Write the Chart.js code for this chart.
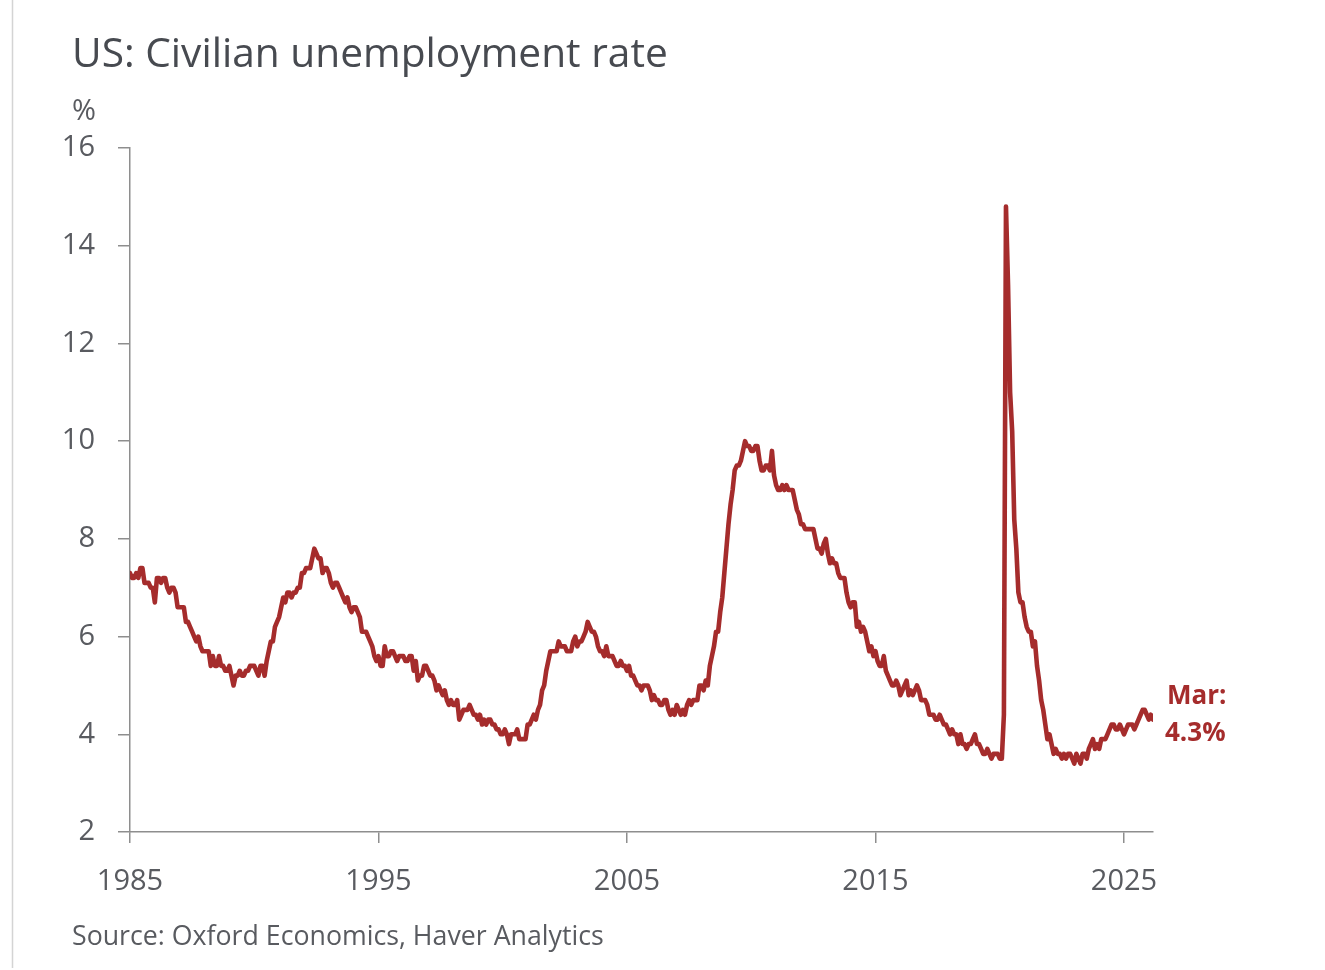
<!DOCTYPE html>
<html>
<head>
<meta charset="utf-8">
<script src="https://cdn.jsdelivr.net/npm/chart.js@4/dist/chart.umd.min.js"></script>
<style>
  html, body { margin: 0; padding: 0; background: #ffffff; }
  #c { display: block; }
</style>
</head>
<body>
<canvas id="c" width="1325" height="970"></canvas>
<script>
// ---- Data (monthly, seasonally adjusted, %) ----
const startYear = 1985;
const rate1985_1994 = [
  7.3,7.2,7.2,7.3,7.2,7.4,7.4,7.1,7.1,7.1,7.0,7.0,
  6.7,7.2,7.2,7.1,7.2,7.2,7.0,6.9,7.0,7.0,6.9,6.6,
  6.6,6.6,6.6,6.3,6.3,6.2,6.1,6.0,5.9,6.0,5.8,5.7,
  5.7,5.7,5.7,5.4,5.6,5.4,5.4,5.6,5.4,5.4,5.3,5.3,
  5.4,5.2,5.0,5.2,5.2,5.3,5.2,5.2,5.3,5.3,5.4,5.4,
  5.4,5.3,5.2,5.4,5.4,5.2,5.5,5.7,5.9,5.9,6.2,6.3,
  6.4,6.6,6.8,6.7,6.9,6.9,6.8,6.9,6.9,7.0,7.0,7.3,
  7.3,7.4,7.4,7.4,7.6,7.8,7.7,7.6,7.6,7.3,7.4,7.4,
  7.3,7.1,7.0,7.1,7.1,7.0,6.9,6.8,6.7,6.8,6.6,6.5,
  6.6,6.6,6.5,6.4,6.1,6.1,6.1,6.0,5.9,5.8,5.6,5.5
];
const rate1995_2004 = [
  5.6,5.4,5.4,5.8,5.6,5.6,5.7,5.7,5.6,5.5,5.6,5.6,
  5.6,5.5,5.5,5.6,5.6,5.3,5.5,5.1,5.2,5.2,5.4,5.4,
  5.3,5.2,5.2,5.1,4.9,5.0,4.9,4.8,4.9,4.7,4.6,4.7,
  4.6,4.6,4.7,4.3,4.4,4.5,4.5,4.5,4.6,4.5,4.4,4.4,
  4.3,4.4,4.2,4.3,4.2,4.3,4.3,4.2,4.2,4.1,4.1,4.0,
  4.0,4.1,4.0,3.8,4.0,4.0,4.0,4.1,3.9,3.9,3.9,3.9,
  4.2,4.2,4.3,4.4,4.3,4.5,4.6,4.9,5.0,5.3,5.5,5.7,
  5.7,5.7,5.7,5.9,5.8,5.8,5.8,5.7,5.7,5.7,5.9,6.0,
  5.8,5.9,5.9,6.0,6.1,6.3,6.2,6.1,6.1,6.0,5.8,5.7,
  5.7,5.6,5.8,5.6,5.6,5.6,5.5,5.4,5.4,5.5,5.4,5.4
];
const rate2005_2014 = [
  5.3,5.4,5.2,5.2,5.1,5.0,5.0,4.9,5.0,5.0,5.0,4.9,
  4.7,4.8,4.7,4.7,4.6,4.6,4.7,4.7,4.5,4.4,4.5,4.4,
  4.6,4.5,4.4,4.5,4.4,4.6,4.7,4.6,4.7,4.7,4.7,5.0,
  5.0,4.9,5.1,5.0,5.4,5.6,5.8,6.1,6.1,6.5,6.8,7.3,
  7.8,8.3,8.7,9.0,9.4,9.5,9.5,9.6,9.8,10.0,9.9,9.9,
  9.8,9.8,9.9,9.9,9.6,9.4,9.4,9.5,9.5,9.4,9.8,9.3,
  9.1,9.0,9.0,9.1,9.0,9.1,9.0,9.0,9.0,8.8,8.6,8.5,
  8.3,8.3,8.2,8.2,8.2,8.2,8.2,8.0,7.8,7.8,7.7,7.9,
  8.0,7.7,7.5,7.6,7.5,7.5,7.3,7.2,7.2,7.2,6.9,6.7,
  6.6,6.7,6.7,6.2,6.3,6.1,6.2,6.1,5.9,5.7,5.8,5.6
];
const rate2015_2024 = [
  5.7,5.5,5.4,5.4,5.6,5.3,5.2,5.1,5.0,5.0,5.1,5.0,
  4.8,4.9,5.0,5.1,4.8,4.9,4.8,4.9,5.0,4.9,4.7,4.7,
  4.7,4.6,4.4,4.4,4.4,4.3,4.3,4.4,4.3,4.2,4.2,4.1,
  4.0,4.1,4.0,4.0,3.8,4.0,3.8,3.8,3.7,3.8,3.8,3.9,
  4.0,3.8,3.8,3.7,3.6,3.6,3.7,3.6,3.5,3.6,3.6,3.6,
  3.5,3.5,4.4,14.8,13.2,11.0,10.2,8.4,7.8,6.9,6.7,6.7,
  6.4,6.2,6.1,6.1,5.8,5.9,5.4,5.1,4.7,4.5,4.2,3.9,
  4.0,3.8,3.6,3.7,3.6,3.6,3.5,3.6,3.5,3.6,3.6,3.5,
  3.4,3.6,3.5,3.4,3.6,3.6,3.5,3.7,3.8,3.9,3.7,3.8,
  3.7,3.9,3.9,3.9,4.0,4.1,4.2,4.2,4.1,4.1,4.2,4.1
];
const rate2025_2026 = [
  4.0,4.1,4.2,4.2,4.2,4.1,4.2,4.3,4.4,4.5,4.5,4.4,
  4.3,4.4,4.3
];
const monthNames = ['Jan','Feb','Mar','Apr','May','Jun','Jul','Aug','Sep','Oct','Nov','Dec'];
const xTickYears = [1985, 1995, 2005, 2015, 2025];
const yTickValues = [2, 4, 6, 8, 10, 12, 14, 16];
const titleText = 'US: Civilian unemployment rate';
const unitText = '%';
const sourceText = 'Source: Oxford Economics, Haver Analytics';

// ---- Build series ----
const allRates = [].concat(rate1985_1994, rate1995_2004, rate2005_2014, rate2015_2024, rate2025_2026);
const points = allRates.map((v, i) => ({ x: startYear + i / 12, y: v }));
const lastIndex = allRates.length - 1;
const lastPoint = points[lastIndex];
const lastMonth = monthNames[lastIndex % 12];

const RED = '#a52c2c';
const AXIS = '#8e8e8e';
const TEXT = '#595b60';
const FONT = '"Open Sans", "Noto Sans", sans-serif';

function fitFont(ctx, text, weight, targetWidth) {
  ctx.font = weight + ' 40px ' + FONT;
  const w = ctx.measureText(text).width;
  return 40 * targetWidth / w;
}

const decorPlugin = {
  id: 'decor',
  afterDraw(chart) {
    const ctx = chart.ctx;
    ctx.save();
    // faint left border
    ctx.strokeStyle = '#d4d4d4';
    ctx.lineWidth = 1.5;
    ctx.beginPath(); ctx.moveTo(12.5, 0); ctx.lineTo(12.5, 968); ctx.stroke();

    // title
    ctx.fillStyle = '#474a50';
    ctx.textAlign = 'left';
    ctx.textBaseline = 'alphabetic';
    let fs = fitFont(ctx, titleText, '400', 596);
    ctx.font = '400 ' + fs.toFixed(2) + 'px ' + FONT;
    ctx.fillText(titleText, 72, 67);

    // unit
    ctx.fillStyle = TEXT;
    ctx.font = '400 29px ' + FONT;
    ctx.fillText(unitText, 72, 120);

    // source
    fs = fitFont(ctx, sourceText, '400', 532);
    ctx.font = '400 ' + fs.toFixed(2) + 'px ' + FONT;
    ctx.fillText(sourceText, 72, 945);

    // end-point annotation
    const xs = chart.scales.x, ys = chart.scales.y;
    const px = xs.getPixelForValue(lastPoint.x);
    const py = ys.getPixelForValue(lastPoint.y);
    ctx.fillStyle = RED;
    ctx.font = '700 26px ' + FONT;
    ctx.fillText(lastMonth + ':', px + 14, py - 16);
    ctx.fillText(lastPoint.y.toFixed(1) + '%', px + 12, py + 21);
    ctx.restore();
  }
};

new Chart(document.getElementById('c'), {
  type: 'line',
  data: {
    datasets: [{
      data: points,
      borderColor: RED,
      borderWidth: 4.6,
      pointRadius: 0,
      tension: 0,
      fill: false,
      borderJoinStyle: 'round',
      borderCapStyle: 'round'
    }]
  },
  options: {
    responsive: false,
    devicePixelRatio: 1,
    animation: false,
    parsing: false,
    layout: { padding: { left: 0, top: 148, right: 172, bottom: 0 } },
    plugins: { legend: { display: false }, tooltip: { enabled: false }, title: { display: false } },
    scales: {
      x: {
        type: 'linear',
        min: startYear,
        max: startYear + lastIndex / 12,
        afterBuildTicks: s => { s.ticks = xTickYears.map(v => ({ value: v })); },
        afterFit: s => { s.height = 138; },
        grid: { display: true, drawOnChartArea: false, drawTicks: true, tickLength: 11, color: AXIS, lineWidth: 1.5 },
        border: { display: true, color: AXIS, width: 1.5 },
        ticks: { color: TEXT, font: { family: FONT, size: 29 }, padding: 21, maxRotation: 0, autoSkip: false,
                 callback: v => String(v) }
      },
      y: {
        type: 'linear',
        min: 2,
        max: 16,
        afterBuildTicks: s => { s.ticks = yTickValues.map(v => ({ value: v })); },
        afterFit: s => { s.width = 130; },
        grid: { display: true, drawOnChartArea: false, drawTicks: true, tickLength: 12, color: AXIS, lineWidth: 1.5 },
        border: { display: true, color: AXIS, width: 1.5 },
        ticks: { color: TEXT, font: { family: FONT, size: 29 }, padding: 23, callback: v => String(v) }
      }
    }
  },
  plugins: [decorPlugin]
});
</script>
</body>
</html>
